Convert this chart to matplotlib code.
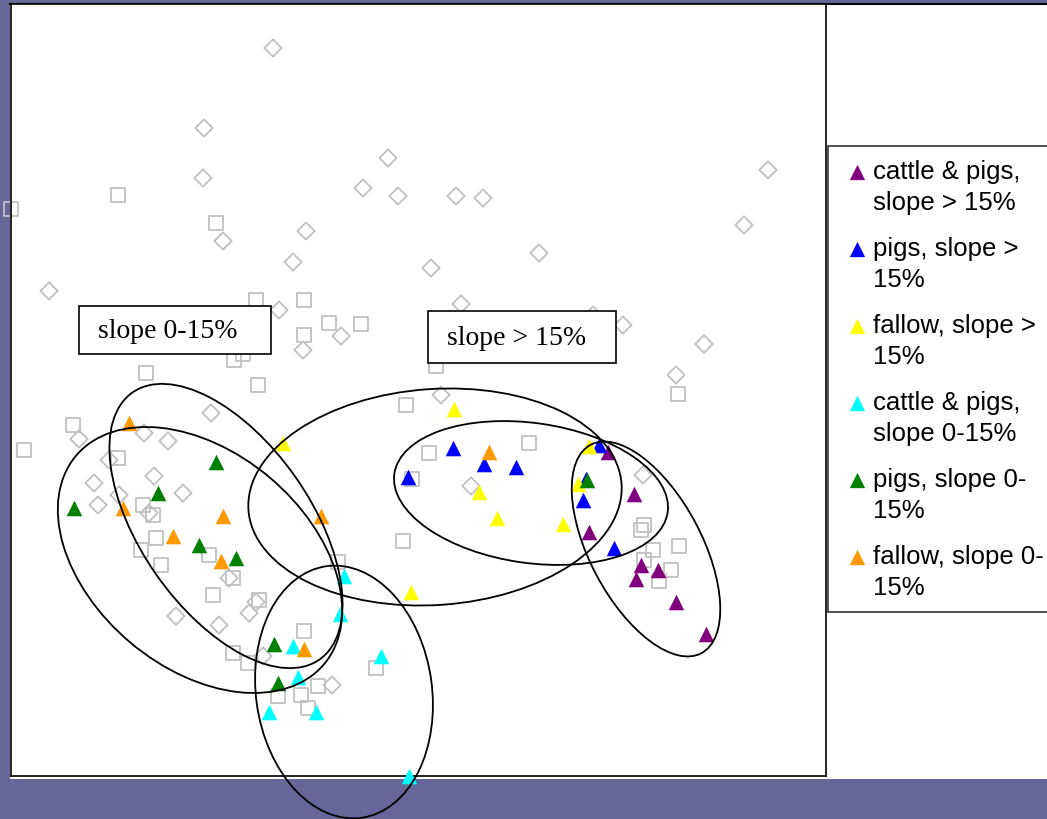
import matplotlib.pyplot as plt
from matplotlib.patches import Ellipse, Rectangle

# site scores (plot units, y grows downward)
cattle_pigs_steep_x = [608, 634, 589, 641, 658, 636, 676, 706]
cattle_pigs_steep_y = [453, 495, 533, 566, 571, 580, 603, 635]
pigs_steep_x = [453, 484, 516, 408, 599, 586, 583, 614]
pigs_steep_y = [449, 465, 468, 478, 446, 480, 501, 549]
fallow_steep_x = [454, 283, 589, 479, 578, 497, 563, 411]
fallow_steep_y = [410, 444, 447, 493, 485, 519, 525, 593]
cattle_pigs_flat_x = [344, 340, 293, 381, 298, 269, 316, 409]
cattle_pigs_flat_y = [577, 615, 647, 657, 678, 713, 713, 777]
pigs_flat_x = [216, 158, 74, 199, 236, 274, 278, 587]
pigs_flat_y = [463, 494, 509, 546, 559, 645, 684, 481]
fallow_flat_x = [129, 123, 223, 173, 221, 321, 304, 489]
fallow_flat_y = [424, 509, 517, 537, 562, 517, 650, 453]

# other samples
square_x = [11, 118, 216, 256, 304, 329, 361, 304, 234, 243, 146, 258, 436,
            406, 429, 529, 412, 403, 678, 644, 641, 653, 679, 644, 671, 659,
            73, 24, 118, 143, 153, 156, 141, 161, 209, 233, 213, 259, 233,
            338, 304, 248, 318, 376, 278, 301, 308]
square_y = [210, 196, 224, 301, 301, 324, 325, 336, 361, 355, 374, 386, 367,
            406, 454, 444, 480, 542, 395, 526, 531, 551, 547, 561, 571, 582,
            426, 451, 459, 506, 516, 539, 551, 566, 556, 579, 596, 601, 654,
            563, 632, 664, 687, 669, 697, 696, 709]
diamond_x = [273, 204, 203, 223, 306, 293, 388, 363, 398, 456, 483, 539, 431,
             461, 593, 623, 49, 279, 341, 303, 704, 676, 744, 768, 441, 471,
             643, 211, 79, 144, 168, 109, 154, 94, 119, 183, 98, 149, 229,
             249, 256, 176, 219, 263, 332]
diamond_y = [49, 129, 179, 242, 232, 263, 159, 189, 197, 197, 199, 254, 269,
             305, 316, 326, 292, 311, 337, 351, 345, 376, 226, 171, 396, 487,
             476, 414, 440, 434, 442, 461, 477, 484, 496, 494, 506, 514, 579,
             614, 603, 617, 626, 657, 686]

# group envelopes: centre x, centre y, semi-axes, rotation
ell_cx = [200, 226, 344, 435, 531, 646]
ell_cy = [561, 527, 693, 498, 494, 550]
ell_a = [162, 163, 127, 187, 138, 118]
ell_b = [108, 85, 88, 108, 70, 56]
ell_angle = [40, 55, 82, -4, 8, 62]

labels = ["cattle & pigs,\nslope > 15%", "pigs, slope >\n15%",
          "fallow, slope >\n15%", "cattle & pigs,\nslope 0-15%",
          "pigs, slope 0-\n15%", "fallow, slope 0-\n15%"]
colors = ["#800080", "#0000ff", "#ffff00", "#00ffff", "#008000", "#ff9900"]
series = [(cattle_pigs_steep_x, cattle_pigs_steep_y),
          (pigs_steep_x, pigs_steep_y),
          (fallow_steep_x, fallow_steep_y),
          (cattle_pigs_flat_x, cattle_pigs_flat_y),
          (pigs_flat_x, pigs_flat_y),
          (fallow_flat_x, fallow_flat_y)]

W, H = 1047, 820
fig = plt.figure(figsize=(W / 100, H / 100), dpi=100)
fig.patch.set_facecolor("#666699")

# page layer in pixel units
bg = fig.add_axes([0, 0, 1, 1])
bg.set_xlim(0, W)
bg.set_ylim(H, 0)
bg.axis("off")
bg.add_patch(Rectangle((10, 5), W - 10, 775, facecolor="white", edgecolor="none"))
bg.plot([10, W], [5, 5], color="black", lw=1.5)

# ordination panel
x0, x1, y0, y1 = 11, 826, 5, 777
ax = fig.add_axes([x0 / W, 1 - y1 / H, (x1 - x0) / W, (y1 - y0) / H])
ax.set_xlim(x0, x1)
ax.set_ylim(y1, y0)
ax.set_xticks([])
ax.set_yticks([])
for sp in ax.spines.values():
    sp.set_color("black")
    sp.set_linewidth(1.2)

ax.scatter(square_x, square_y, marker="s", s=10 ** 2, facecolors="none",
           edgecolors="#c0c0c0", linewidths=1.3, zorder=2, clip_on=False)
ax.scatter(diamond_x, diamond_y, marker="D", s=8.8 ** 2, facecolors="none",
           edgecolors="#c0c0c0", linewidths=1.3, zorder=2, clip_on=False)

for (xs, ys), c in zip(series, colors):
    ax.scatter(xs, ys, marker="^", s=11.2 ** 2, color=c, linewidths=0,
               zorder=3, clip_on=False)

for cx, cy, a, b, ang in zip(ell_cx, ell_cy, ell_a, ell_b, ell_angle):
    ax.add_patch(Ellipse((cx, cy), 2 * a, 2 * b, angle=ang, fill=False,
                         edgecolor="black", lw=1.3, zorder=4, clip_on=False))

# slope class labels
for (bx, by, bw, bh), txt in zip([(79, 307, 192, 48), (428, 312, 188, 52)],
                                 ["slope 0-15%", "slope > 15%"]):
    ax.add_patch(Rectangle((bx, by), bw, bh, facecolor="white",
                           edgecolor="black", lw=1.2, zorder=5))
    ax.text(bx + 19, by + bh / 2 + 1, txt, fontsize=20,
            family="Liberation Serif", va="center", ha="left", zorder=6)

# legend
bg.add_patch(Rectangle((828, 147), 225, 466, facecolor="white",
                       edgecolor="#333333", lw=1.2, zorder=1))
for i, (lab, c) in enumerate(zip(labels, colors)):
    ly = 172 + i * 77
    bg.scatter([857], [ly + 1], marker="^", s=11 ** 2, color=c,
               linewidths=0, zorder=3)
    for j, line in enumerate(lab.split("\n")):
        bg.text(873, ly + j * 31, line, fontsize=18.5,
                family="Liberation Sans", va="center", ha="left", zorder=3)

fig.savefig("out.png", dpi=100, facecolor=fig.get_facecolor())
